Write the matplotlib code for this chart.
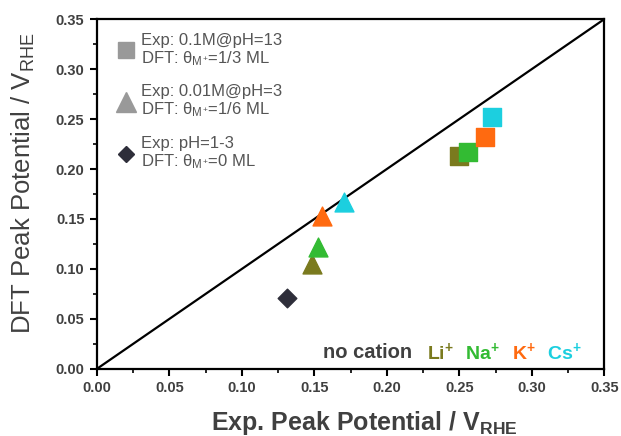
import matplotlib
matplotlib.use("Agg")
from matplotlib import pyplot as plt
from matplotlib.lines import Line2D

plt.rcParams['font.family'] = ['Liberation Sans', 'DejaVu Sans']
plt.rcParams['mathtext.fontset'] = 'custom'
plt.rcParams['mathtext.rm'] = 'Liberation Sans'
plt.rcParams['mathtext.it'] = 'Liberation Sans'
plt.rcParams['mathtext.bf'] = 'Liberation Sans:bold'

# cations: Li, Na, K, Cs
cations = [r'$\mathbf{Li^{+}}$', r'$\mathbf{Na^{+}}$', r'$\mathbf{K^{+}}$', r'$\mathbf{Cs^{+}}$']
colores = ['#7a7a1e', '#33bb33', '#ff6a10', '#1ccfdf']

# 0.1M @ pH 13 (squares)
exp_sq = [0.250, 0.256, 0.2675, 0.2725]
dft_sq = [0.213, 0.217, 0.232, 0.2525]

# 0.01M @ pH 3 (triangles)
exp_tri = [0.1485, 0.1527, 0.1553, 0.1703]
dft_tri = [0.1045, 0.1223, 0.153, 0.1666]

# no cation (diamond)
exp_none = [0.1315]
dft_none = [0.071]

ticks = [0.00, 0.05, 0.10, 0.15, 0.20, 0.25, 0.30, 0.35]

fig = plt.figure(figsize=(6.21, 4.36), dpi=100)
ax = fig.add_axes([0.156, 0.154, 0.817, 0.802])

ax.axline((0, 0), slope=1, color='black', lw=1.6, zorder=1)

ax.scatter(exp_none, dft_none, marker='D', s=90, color='#2e2e3a', zorder=3)
for i in range(len(cations)):
    ax.scatter(exp_tri[i], dft_tri[i], marker='^', s=185, color=colores[i], zorder=3)
for i in range(len(cations)):
    ax.scatter(exp_sq[i], dft_sq[i], marker='s', s=150, color=colores[i], zorder=3)

ax.set_xlim(0, 0.35)
ax.set_ylim(0, 0.35)
ax.set_xticks(ticks)
ax.set_yticks(ticks)
ax.set_xticks([t + 0.025 for t in ticks[:-1]], minor=True)
ax.set_yticks([t + 0.025 for t in ticks[:-1]], minor=True)
ax.set_xticklabels(['%.2f' % t for t in ticks], fontweight='bold', fontsize=10.5, color='#404040')
ax.set_yticklabels(['%.2f' % t for t in ticks], fontweight='bold', fontsize=10.5, color='#404040')
ax.tick_params(which='major', direction='out', length=5, width=1.5, pad=4)
ax.tick_params(which='minor', direction='out', length=3, width=1.2)
for s in ax.spines.values():
    s.set_linewidth(1.6)

ax.set_xlabel(r'Exp. Peak Potential / V$_{\mathbf{RHE}}$', fontsize=18, fontweight='bold', color='#404040', labelpad=10)
ax.set_ylabel(r'DFT Peak Potential / V$_{\mathrm{RHE}}$', fontsize=18.5, color='#404040', labelpad=13)
ax.xaxis.label.set_x(0.527)
ax.yaxis.label.set_y(0.53)

handles = [
    Line2D([], [], marker='s', color='#999999', ls='none', markersize=11),
    Line2D([], [], marker='^', color='#999999', ls='none', markersize=14),
    Line2D([], [], marker='D', color='#2e2e3a', ls='none', markersize=8),
]
labels = [
    'Exp: 0.1M@pH=13\nDFT: $\\theta_{M^{+}}$=1/3 ML',
    'Exp: 0.01M@pH=3\nDFT: $\\theta_{M^{+}}$=1/6 ML',
    'Exp: pH=1-3\nDFT: $\\theta_{M^{+}}$=0 ML',
]
leg = ax.legend(handles, labels, loc='upper left', frameon=False, fontsize=12,
                labelspacing=1.0, handletextpad=0.3, handlelength=1.2,
                bbox_to_anchor=(0.015, 0.995), borderaxespad=0.3)
for t in leg.get_texts():
    t.set_color('#555555')
    t.set_linespacing(1.1)

# cation color key
ax.text(0.445, 0.047, 'no cation', transform=ax.transAxes, fontsize=14.5,
        fontweight='bold', color='#404040', va='center')
pos = [0.650, 0.726, 0.818, 0.887]
for i in range(len(cations)):
    ax.text(pos[i], 0.047, cations[i], transform=ax.transAxes, fontsize=14,
            color=colores[i], va='center')

fig.savefig('out.png', dpi=100)
